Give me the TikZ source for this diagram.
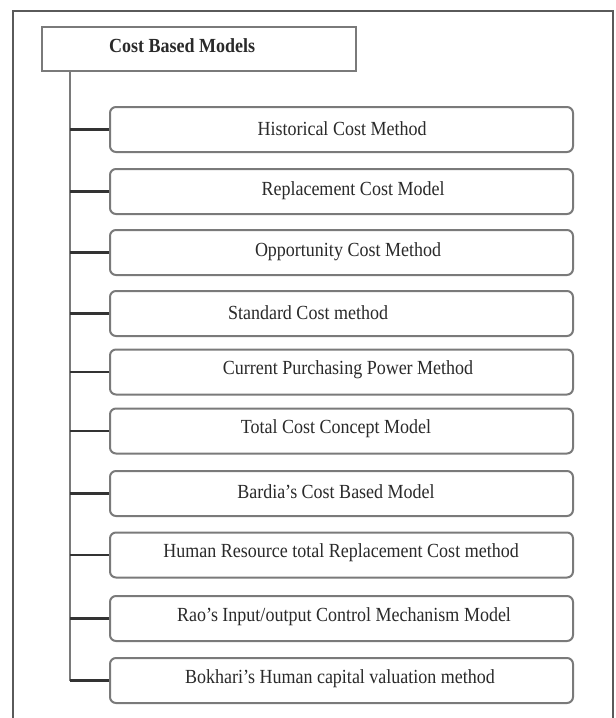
\documentclass[tikz,border=0pt]{standalone}
\usepackage{fontspec}
\setmainfont{Liberation Serif}[FakeStretch=0.9]
\definecolor{framegray}{HTML}{5A5A5A}
\definecolor{boxgray}{HTML}{7A7A7A}
\definecolor{linkgray}{HTML}{333333}
\definecolor{txtgray}{HTML}{2A2A2A}
\tikzset{
  frameline/.style={draw=framegray, line width=2pt},
  titlebox/.style={draw=boxgray, line width=2pt, rectangle, minimum width=314pt, minimum height=44pt, inner sep=0pt},
  itembox/.style={draw=boxgray, line width=2pt, rectangle, rounded corners=6pt, minimum width=463pt, minimum height=45pt, inner sep=0pt},
  lbl/.style={text=txtgray, font=\fontsize{20}{22}\selectfont, inner sep=0pt, anchor=center},
  trunk/.style={draw=boxgray, line width=2pt},
  link/.style={draw=linkgray, line width=2.4pt},
}
\begin{document}
\begin{tikzpicture}[x=1pt,y=-1pt]
\useasboundingbox (0,0) rectangle (616,718);
\fill[white] (0,0) rectangle (616,718);
% outer frame (open at bottom)
\coordinate (fbl) at (13,720);
\coordinate (ftl) at (13,11);
\coordinate (ftr) at (613,11);
\coordinate (fbr) at (613,720);
\draw[frameline] (fbl) -- (ftl) -- (ftr) -- (fbr);
% title
\node[titlebox] (title) at (199,49) {};
\node[lbl, anchor=west, font=\fontsize{20}{22}\selectfont\bfseries] (ttl) at (109,46) {Cost Based Models};
% items
\node[itembox] (b1) at (341.5,129.5) {};
\node[lbl] (t1) at (342,128.5) {Historical Cost Method};
\node[itembox] (b2) at (341.5,191.5) {};
\node[lbl] (t2) at (353,190.5) {Replacement Cost Model};
\node[itembox] (b3) at (341.5,252.5) {};
\node[lbl] (t3) at (348,251.5) {Opportunity Cost Method};
\node[itembox] (b4) at (341.5,313.5) {};
\node[lbl] (t4) at (308,312.5) {Standard Cost method};
\node[itembox] (b5) at (341.5,372) {};
\node[lbl] (t5) at (348,370) {Current Purchasing Power Method};
\node[itembox] (b6) at (341.5,431) {};
\node[lbl] (t6) at (336,429) {Total Cost Concept Model};
\node[itembox] (b7) at (341.5,493.5) {};
\node[lbl] (t7) at (336,491.5) {Bardia’s Cost Based Model};
\node[itembox] (b8) at (341.5,555) {};
\node[lbl] (t8) at (341,553) {Human Resource total Replacement Cost method};
\node[itembox] (b9) at (341.5,618.5) {};
\node[lbl] (t9) at (344,616.5) {Rao’s Input/output Control Mechanism Model};
\node[itembox] (b10) at (341.5,680.5) {};
\node[lbl] (t10) at (340,678.5) {Bokhari’s Human capital valuation method};
% trunk
\coordinate (tk0) at (70,71);
\coordinate (tk10) at (70,680.5);
\draw[trunk] (tk0) -- (tk10);
\foreach \i in {1,...,9}{
  \draw[link] (b\i.west) -- (tk0 |- b\i.west);
}
\draw[link] (b10.west) -- (tk10);
\end{tikzpicture}
\end{document}
